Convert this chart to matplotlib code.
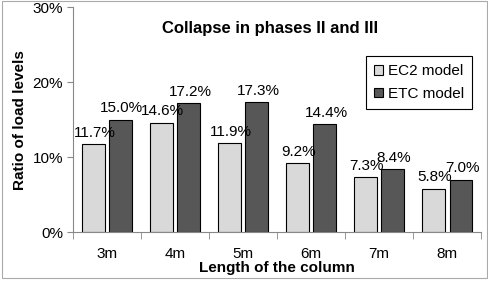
import matplotlib.pyplot as plt
import numpy as np
from matplotlib.patches import Rectangle

plt.rcParams['font.family'] = ['Liberation Sans', 'DejaVu Sans']

LENGTHS = ['3m', '4m', '5m', '6m', '7m', '8m']
EC2_MODEL = [11.7, 14.6, 11.9, 9.2, 7.3, 5.8]
ETC_MODEL = [15.0, 17.2, 17.3, 14.4, 8.4, 7.0]

EC2_COLOR = '#d9d9d9'
ETC_COLOR = '#575757'
AXIS_COLOR = '#888888'


def main():
    fig = plt.figure(figsize=(4.89, 2.81), dpi=100)
    ax = fig.add_axes([0.149, 0.174, 0.835, 0.801])

    x = np.arange(len(LENGTHS))
    width = 0.33
    bars_ec2 = ax.bar(x - 0.2, EC2_MODEL, width, color=EC2_COLOR,
                      edgecolor='black', linewidth=0.8, label='EC2 model')
    bars_etc = ax.bar(x + 0.2, ETC_MODEL, width, color=ETC_COLOR,
                      edgecolor='black', linewidth=0.8, label='ETC model')

    for bars in (bars_ec2, bars_etc):
        for b in bars:
            h = b.get_height()
            ax.annotate(f'{h:.1f}%', (b.get_x() + b.get_width() / 2, h),
                        xytext=(1, 3), textcoords='offset points',
                        ha='center', va='bottom', fontsize=11)

    ax.set_xlim(-0.5, len(LENGTHS) - 0.5)
    ax.set_ylim(0, 30)
    ax.set_yticks([0, 10, 20, 30])
    ax.set_yticklabels(['0%', '10%', '20%', '30%'], fontsize=11)
    ax.set_xticks(x)
    ax.set_xticklabels(LENGTHS, fontsize=11)
    ax.set_xticks(np.arange(-0.5, len(LENGTHS)), minor=True)
    ax.tick_params(axis='x', which='major', length=0, pad=11)
    ax.tick_params(axis='x', which='minor', length=5, color=AXIS_COLOR)
    ax.tick_params(axis='y', length=4, color=AXIS_COLOR, pad=3)

    for side in ('top', 'right'):
        ax.spines[side].set_visible(False)
    for side in ('left', 'bottom'):
        ax.spines[side].set_color(AXIS_COLOR)

    ax.set_xlabel('Length of the column', fontsize=11, fontweight='bold', labelpad=0)
    ax.set_ylabel('Ratio of load levels', fontsize=11, fontweight='bold', labelpad=4)
    ax.text(0.482, 0.905, 'Collapse in phases II and III', transform=ax.transAxes,
            ha='center', va='center', fontsize=12, fontweight='bold')

    leg = ax.legend(loc='upper right', bbox_to_anchor=(0.978, 0.782), fontsize=11,
                    fancybox=False, edgecolor='black', framealpha=1,
                    borderaxespad=0, handlelength=0.6, handleheight=0.6,
                    handletextpad=0.3, borderpad=0.55, labelspacing=0.55)
    leg.get_frame().set_linewidth(0.8)

    fig.patches.append(Rectangle((0.004, 0.01), 0.992, 0.985, transform=fig.transFigure,
                                 fill=False, edgecolor='#aaaaaa', linewidth=0.8))

    fig.savefig('out.png', dpi=100)


if __name__ == '__main__':
    main()
